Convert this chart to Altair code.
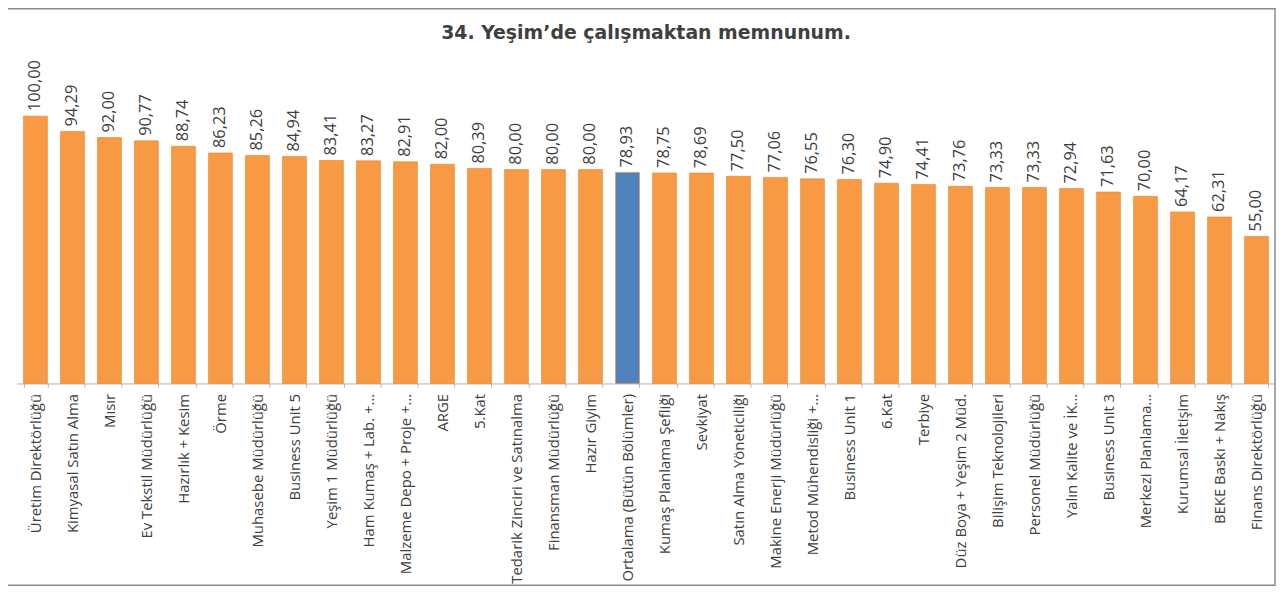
import altair as alt
import pandas as pd

categories = [
    "Üretim Direktörlüğü", "Kimyasal Satın Alma", "Mısır", "Ev Tekstil Müdürlüğü",
    "Hazırlık + Kesim", "Örme", "Muhasebe Müdürlüğü", "Business Unit 5",
    "Yeşim 1 Müdürlüğü", "Ham Kumaş + Lab. +…", "Malzeme Depo + Proje +…", "ARGE",
    "5.Kat", "Tedarik Zinciri ve Satınalma", "Finansman Müdürlüğü", "Hazır Giyim",
    "Ortalama (Bütün Bölümler)", "Kumaş Planlama Şefliği", "Sevkiyat",
    "Satın Alma Yöneticiliği", "Makine Enerji Müdürlüğü", "Metod Mühendisliği +…",
    "Business Unit 1", "6.Kat", "Terbiye", "Düz Boya + Yeşim 2 Müd.",
    "Bilişim Teknolojileri", "Personel Müdürlüğü", "Yalın Kalite ve İK…",
    "Business Unit 3", "Merkezi Planlama…", "Kurumsal İletişim", "BEKE Baskı + Nakış",
    "Finans Direktörlüğü",
]
values = [
    100.00, 94.29, 92.00, 90.77, 88.74, 86.23, 85.26, 84.94, 83.41, 83.27, 82.91,
    82.00, 80.39, 80.00, 80.00, 80.00, 78.93, 78.75, 78.69, 77.50, 77.06, 76.55,
    76.30, 74.90, 74.41, 73.76, 73.33, 73.33, 72.94, 71.63, 70.00, 64.17, 62.31,
    55.00,
]
highlight = "Ortalama (Bütün Bölümler)"

df = pd.DataFrame({"kategori": categories, "deger": values})
df["grup"] = ["ort" if c == highlight else "bolum" for c in categories]

W, H = 1266, 269
FONT = "Open Sans"

base = alt.Chart(df)

x_enc = alt.X(
    "kategori:N", sort=None, title=None,
    scale=alt.Scale(paddingInner=0.355, paddingOuter=0.178),
    axis=alt.Axis(
        labelAngle=270, labelAlign="right", labelBaseline="middle",
        labelFont=FONT, labelFontSize=15, labelColor="#404040", labelLimit=0,
        labelPadding=6, tickBand="extent", ticks=True, tickSize=4,
        tickColor="#a9b9d0", domainColor="#b0b0b0", labelOverlap=False,
    ),
)
y_enc = alt.Y("deger:Q", scale=alt.Scale(domain=[0, 100]), axis=None)

bars = base.mark_bar(stroke="#e4832e", strokeWidth=0.6).encode(
    x=x_enc, y=y_enc,
    color=alt.Color(
        "grup:N",
        scale=alt.Scale(domain=["bolum", "ort"], range=["#f79a43", "#4f81bd"]),
        legend=None,
    ),
)

labels = base.transform_calculate(
    etiket="replace(format(datum.deger, '.2f'), '.', ',')"
).mark_text(
    angle=270, align="left", baseline="middle", dx=5,
    font=FONT, fontSize=16.5, color="#404040",
).encode(x=alt.X("kategori:N", sort=None), y="deger:Q", text="etiket:N")

border = alt.Chart(alt.Data(values=[{}])).mark_rect(
    fill=None, stroke="#8a8a8a", strokeWidth=1.5
).encode(
    x=alt.value(-10), x2=alt.value(1266), y=alt.value(-108), y2=alt.value(472)
)

chart = alt.layer(border, bars, labels).properties(
    width=W, height=H,
    autosize=alt.AutoSizeParams(type="none"),
    padding={"left": 9, "top": 107, "right": 5, "bottom": 205},
    title=alt.TitleParams(
        "34. Yeşim’de çalışmaktan memnunum.", font="DejaVu Sans", fontSize=19,
        fontWeight="bold", color="#404040", anchor="middle", frame="group",
        offset=-35,
    ),
).configure_view(stroke=None)

chart.save("out.html", embed_options={"renderer": "svg", "actions": False})
